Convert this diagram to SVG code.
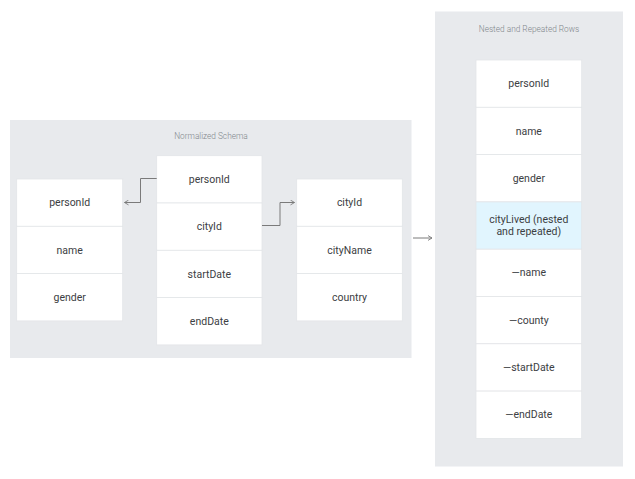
<svg xmlns="http://www.w3.org/2000/svg" width="635" height="479" viewBox="0 0 635 479">
<style>
.panel{fill:#e8eaed}
.cell{fill:#ffffff;stroke:#e3e5e8;stroke-width:0.8}
.hl{fill:#e1f5fe;stroke:#e3e5e8;stroke-width:0.8}
.t{font-family:Roboto,"Liberation Sans",sans-serif;font-size:10.5px;fill:#3c4043;text-anchor:middle;dominant-baseline:central}
.title{font-family:Roboto,"Liberation Sans",sans-serif;font-size:8.3px;font-weight:300;fill:#80868b;text-anchor:middle;dominant-baseline:central}
.conn{fill:none;stroke:#7a7a7a;stroke-width:1}
</style>
<defs>
<marker id="arr" viewBox="0 0 10 10" refX="9" refY="5" markerWidth="5" markerHeight="6" orient="auto" markerUnits="userSpaceOnUse" preserveAspectRatio="none">
<path d="M1,1 L9,5 L1,9" fill="none" stroke="#7a7a7a" stroke-width="1.6"/>
</marker>
</defs>
<rect class="panel" x="10" y="120" width="401.5" height="238"/>
<text class="title" x="211" y="136">Normalized Schema</text>
<rect class="panel" x="435" y="11.5" width="188" height="455"/>
<text class="title" x="529" y="29">Nested and Repeated Rows</text>
<g id="person">
<rect class="cell" x="16.7" y="179" width="106" height="47.3"/>
<rect class="cell" x="16.7" y="226.3" width="106" height="47.3"/>
<rect class="cell" x="16.7" y="273.6" width="106" height="47.3"/>
<text class="t" x="69.7" y="202.7">personId</text>
<text class="t" x="69.7" y="250">name</text>
<text class="t" x="69.7" y="297.3">gender</text>
</g>
<g id="lived">
<rect class="cell" x="156.7" y="155.7" width="105.3" height="47.3"/>
<rect class="cell" x="156.7" y="203" width="105.3" height="47.3"/>
<rect class="cell" x="156.7" y="250.3" width="105.3" height="47.3"/>
<rect class="cell" x="156.7" y="297.6" width="105.3" height="47.3"/>
<text class="t" x="209.3" y="179.3">personId</text>
<text class="t" x="209.3" y="226.6">cityId</text>
<text class="t" x="209.3" y="274">startDate</text>
<text class="t" x="209.3" y="321.3">endDate</text>
</g>
<g id="city">
<rect class="cell" x="296.7" y="179" width="105.6" height="47.3"/>
<rect class="cell" x="296.7" y="226.3" width="105.6" height="47.3"/>
<rect class="cell" x="296.7" y="273.6" width="105.6" height="47.3"/>
<text class="t" x="349.5" y="202.7">cityId</text>
<text class="t" x="349.5" y="250">cityName</text>
<text class="t" x="349.5" y="297.3">country</text>
</g>
<g id="nested">
<rect class="cell" x="476" y="60" width="105.7" height="47.3"/>
<rect class="cell" x="476" y="107.3" width="105.7" height="47.3"/>
<rect class="cell" x="476" y="154.6" width="105.7" height="47.3"/>
<rect class="hl" x="476" y="201.9" width="105.7" height="47.3"/>
<rect class="cell" x="476" y="249.2" width="105.7" height="47.3"/>
<rect class="cell" x="476" y="296.5" width="105.7" height="47.3"/>
<rect class="cell" x="476" y="343.8" width="105.7" height="47.3"/>
<rect class="cell" x="476" y="391.1" width="105.7" height="47.3"/>
<text class="t" x="528.8" y="83.7">personId</text>
<text class="t" x="528.8" y="131">name</text>
<text class="t" x="528.8" y="178.3">gender</text>
<text class="t" x="528.8" y="219.5">cityLived (nested</text>
<text class="t" x="528.8" y="231.5">and repeated)</text>
<text class="t" x="528.8" y="272.9">—name</text>
<text class="t" x="528.8" y="320.2">—county</text>
<text class="t" x="528.8" y="367.5">—startDate</text>
<text class="t" x="528.8" y="414.8">—endDate</text>
</g>
<g id="connectors">
<path class="conn" d="M156.7,178.5 H140.5 V202.5 H124.5" marker-end="url(#arr)"/>
<path class="conn" d="M262,225.5 H280 V202.5 H294.5" marker-end="url(#arr)"/>
<path class="conn" d="M413,238 H432" marker-end="url(#arr)"/>
</g>
</svg>
